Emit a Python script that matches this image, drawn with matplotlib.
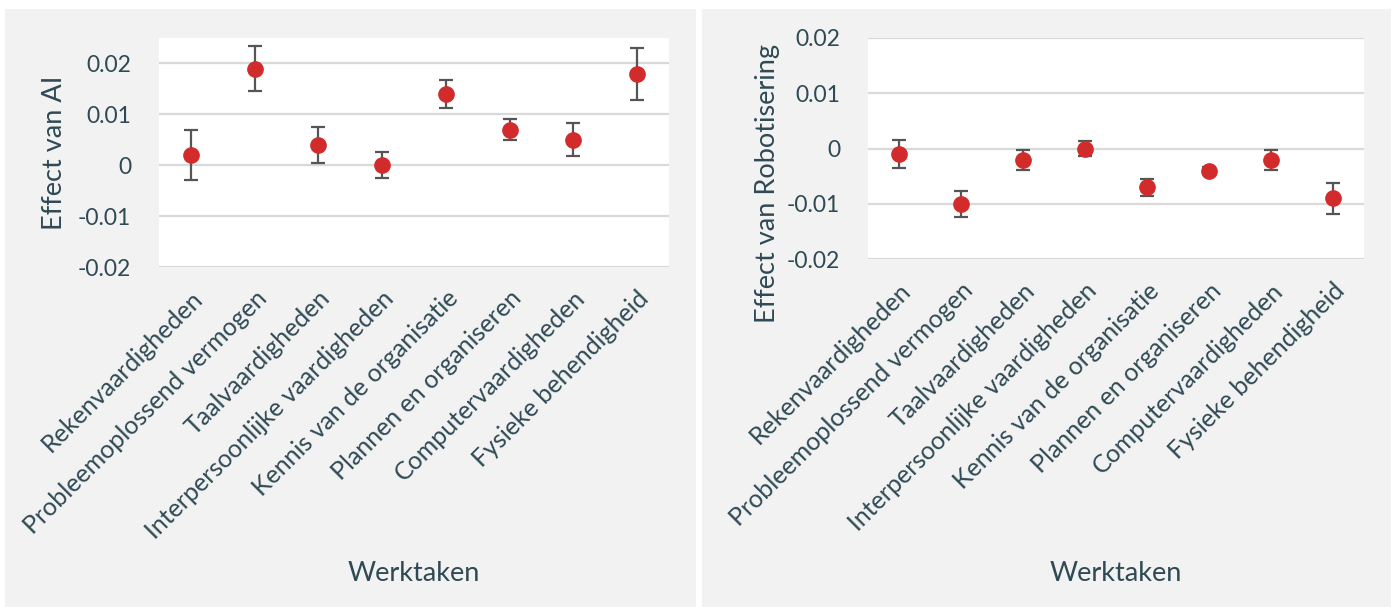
import numpy as np
import matplotlib
matplotlib.use("Agg")
import matplotlib.pyplot as plt
from matplotlib.patches import Rectangle

# Werktaken en geschatte effecten
taken = [
    "Rekenvaardigheden",
    "Probleemoplossend vermogen",
    "Taalvaardigheden",
    "Interpersoonlijke vaardigheden",
    "Kennis van de organisatie",
    "Plannen en organiseren",
    "Computervaardigheden",
    "Fysieke behendigheid",
]
effect_ai = [0.002, 0.019, 0.004, 0.0, 0.014, 0.007, 0.005, 0.018]
fout_ai = [0.0050, 0.0045, 0.0035, 0.0026, 0.0028, 0.0020, 0.0032, 0.0051]
effect_robot = [-0.001, -0.010, -0.002, 0.0, -0.007, -0.004, -0.002, -0.009]
fout_robot = [0.0026, 0.0024, 0.0018, 0.0014, 0.0015, 0.0006, 0.0018, 0.0028]
yticks = [-0.02, -0.01, 0, 0.01, 0.02]
ytick_labels = ["-0.02", "-0.01", "0", "0.01", "0.02"]

TEXT = "#2f4a55"
RED = "#d22b2b"
BAR = "#555555"
GRID = "#d9d9d9"
PANEL = "#f2f2f2"

plt.rcParams["font.family"] = ["Lato", "DejaVu Sans"]

W, H = 1395, 607
fig = plt.figure(figsize=(W / 100, H / 100), dpi=100)
fig.patch.set_facecolor("white")

# grijze panelen achter beide grafieken
for x0, x1 in [(5, 696), (702, 1391)]:
    fig.add_artist(Rectangle((x0 / W, 0), (x1 - x0) / W, 1 - 9 / H,
                             transform=fig.transFigure, facecolor=PANEL,
                             edgecolor="none", zorder=0))


def px_axes(x0, x1, ytop, ybot):
    return fig.add_axes([x0 / W, 1 - ybot / H, (x1 - x0) / W, (ybot - ytop) / H])


def draw(ax, values, errors, ylabel, ylim, ylabel_x, ylabel_y, xlabel_y):
    x = np.arange(len(taken))
    ax.set_facecolor("white")
    ax.errorbar(x, values, yerr=errors, fmt="o", color=RED, markersize=11,
                ecolor=BAR, elinewidth=1.6, capsize=5, capthick=1.6, zorder=3)
    ax.set_xlim(-0.5, len(taken) - 0.5)
    ax.set_ylim(*ylim)
    ax.set_yticks(yticks)
    ax.set_yticklabels(ytick_labels)
    ax.set_xticks(x)
    ax.set_xticklabels(taken, rotation=45, ha="right", rotation_mode="anchor")
    ax.grid(axis="y", color=GRID, linewidth=1.6, zorder=0)
    ax.set_axisbelow(True)
    for s in ax.spines.values():
        s.set_visible(False)
    ax.tick_params(axis="both", length=0, colors=TEXT)
    ax.tick_params(axis="y", labelsize=16.5, pad=20)
    ax.tick_params(axis="x", labelsize=18, pad=14)
    ax.set_ylabel(ylabel, fontsize=19.5, color=TEXT)
    ax.yaxis.set_label_coords(ylabel_x, ylabel_y)
    ax.yaxis.label.set_va("center")
    ax.set_xlabel("Werktaken", fontsize=19.5, color=TEXT)
    ax.xaxis.set_label_coords(0.5, xlabel_y)
    ax.xaxis.label.set_va("center")


ax1 = px_axes(159, 669, 38, 267)
draw(ax1, effect_ai, fout_ai, "Effect van AI", (-0.02, 0.025), -0.204, 0.5, -1.34)

ax2 = px_axes(868, 1364, 37.7, 259.3)
draw(ax2, effect_robot, fout_robot, "Effect van Robotisering", (-0.02, 0.02),
     -0.202, 0.34, -1.42)

fig.savefig("out.png", dpi=100, facecolor=fig.get_facecolor())
